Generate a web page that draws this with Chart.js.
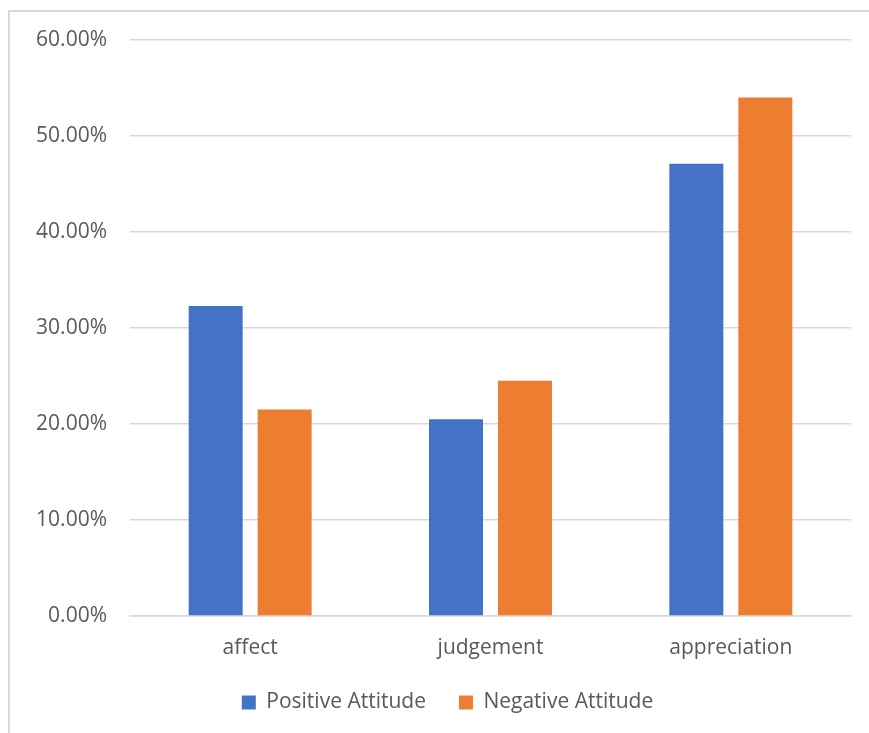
<!DOCTYPE html>
<html>
<head>
<meta charset="utf-8">
<title>Attitude</title>
<script src="https://cdn.jsdelivr.net/npm/chart.js@4.4.0/dist/chart.umd.min.js"></script>
<style>
  html, body { margin: 0; padding: 0; background: #fff; overflow: hidden; }
  .frame {
    position: absolute; left: 8px; top: 10px;
    width: 880px; height: 800px;
    border: 2px solid #d9d9d9; box-sizing: border-box;
  }
  .wrap { position: absolute; left: 0; top: 0; width: 869px; height: 733px; }
</style>
</head>
<body>
<div class="frame"></div>
<div class="wrap"><canvas id="attitudeChart"></canvas></div>
<script>
const categories = ['affect', 'judgement', 'appreciation'];
const positiveAttitude = [32.3, 20.5, 47.1];
const negativeAttitude = [21.5, 24.5, 54.0];
const yTicks = [0, 10, 20, 30, 40, 50, 60];

const textColor = '#595959';
const gridColor = '#d9d9d9';
Chart.defaults.font.family = '"Open Sans", sans-serif';
Chart.defaults.font.size = 21;
Chart.defaults.color = textColor;

// nudge the legend sideways after layout
const legendShift = {
  id: 'legendShift',
  afterLayout(chart) {
    const lg = chart.legend;
    if (lg) { lg.left += 22; lg.right += 22; }
  }
};

const ctx = document.getElementById('attitudeChart').getContext('2d');

new Chart(ctx, {
  type: 'bar',
  data: {
    labels: categories,
    datasets: [
      {
        label: 'Positive Attitude',
        data: positiveAttitude,
        backgroundColor: '#4472c4',
        categoryPercentage: 0.574,
        barPercentage: 0.783
      },
      {
        label: 'Negative Attitude',
        data: negativeAttitude,
        backgroundColor: '#ed7d31',
        categoryPercentage: 0.574,
        barPercentage: 0.783
      }
    ]
  },
  options: {
    responsive: true,
    maintainAspectRatio: false,
    animation: false,
    layout: {
      padding: { top: 40, right: 18, left: 0, bottom: 10 }
    },
    plugins: {
      legend: {
        position: 'bottom',
        labels: {
          boxWidth: 14,
          boxHeight: 14,
          padding: 33,
          color: textColor
        }
      },
      tooltip: { enabled: false }
    },
    scales: {
      y: {
        min: 0,
        max: 60,
        afterFit(scale) { scale.width = 130; },
        afterBuildTicks(scale) { scale.ticks = yTicks.map(v => ({ value: v })); },
        ticks: {
          padding: 23,
          callback: v => v.toFixed(2) + '%'
        },
        grid: { color: gridColor, lineWidth: 1.5, drawTicks: false },
        border: { display: false }
      },
      x: {
        afterFit(scale) { scale.height = 43; },
        ticks: { padding: 19, autoSkip: false },
        grid: { display: false, drawTicks: false },
        border: { color: gridColor, width: 1.5 }
      }
    }
  },
  plugins: [legendShift]
});
</script>
</body>
</html>
